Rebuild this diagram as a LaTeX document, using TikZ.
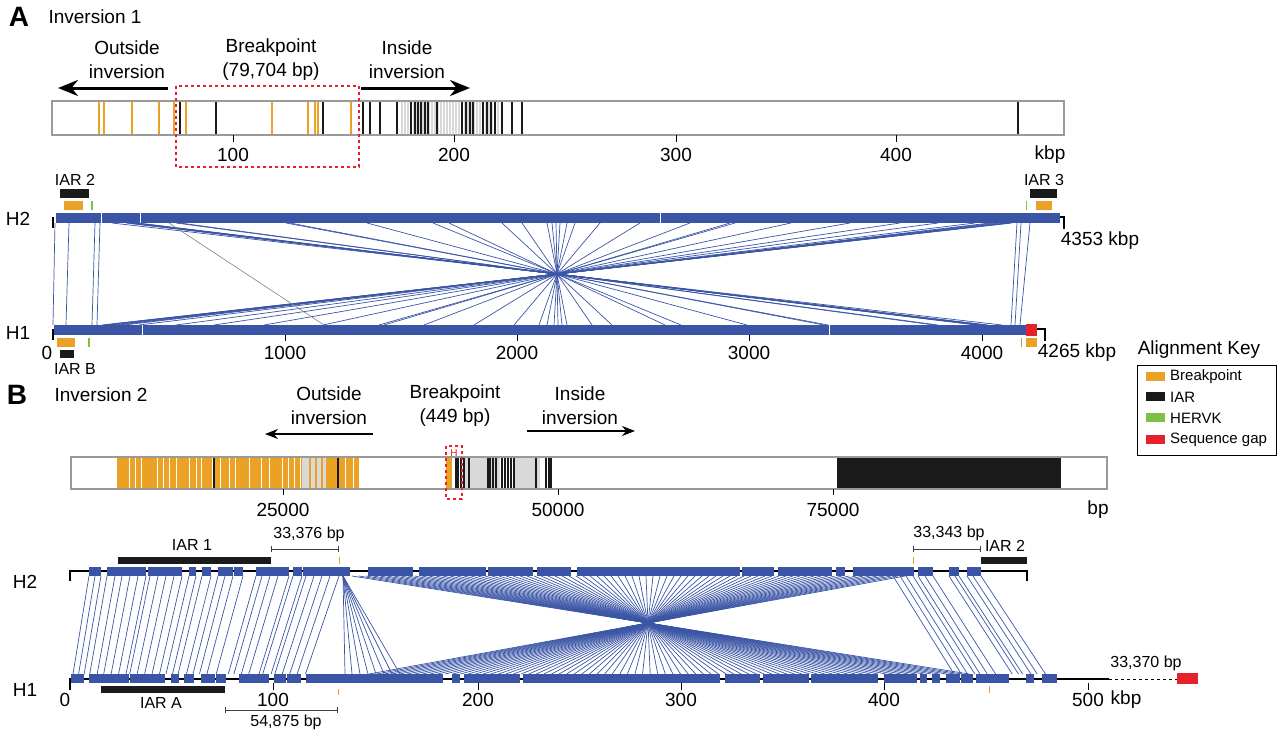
\documentclass[tikz,border=0pt]{standalone}
\usepackage{fontspec}
\setmainfont{Liberation Sans}
\usetikzlibrary{arrows.meta}
\definecolor{alnblue}{HTML}{3A55A5}
\definecolor{bporange}{HTML}{EBA026}
\definecolor{iarblack}{HTML}{1A1A1A}
\definecolor{hervgreen}{HTML}{7DC142}
\definecolor{gapred}{HTML}{E52129}
\definecolor{barframe}{HTML}{9A9A9A}
\newcommand{\fsz}[2]{\fontsize{#1}{#2}\selectfont}

\begin{document}
\begin{tikzpicture}[
    x=1pt, y=-1pt,
    lbl/.style={inner sep=0pt, font=\fsz{19}{24}, align=center},
    note/.style={inner sep=0pt, font=\fsz{16}{18}},
    keytext/.style={inner sep=0pt, font=\fsz{15}{17}, anchor=west},
    panel/.style={inner sep=0pt, font=\fsz{28}{30}\bfseries},
    strip/.style={draw=barframe, line width=1.2pt},
    aln/.style={draw=alnblue, line width=0.7pt},
    track/.style={fill=alnblue},
    band/.style={line width=1.3pt},
    bigarrow/.style={-{Stealth[length=20pt, width=16pt]}, line width=3pt},
    thinarrow/.style={-{Stealth[length=13pt, width=10pt]}, line width=1.5pt},
    bpbox/.style={draw=gapred, dashed, line width=1.3pt},
    tickmark/.style={line width=1pt},
    scalebar/.style={{Bar[width=6pt]}-{Bar[width=6pt]}, line width=0.9pt, black!75},
    endmark/.style={line width=1.8pt}
]
\useasboundingbox (0,0) rectangle (1280,731);

% Panel A: headings
\node[panel] (panelA) at (19,17) {A};
\node[lbl] (invA) at (95,17) {Inversion 1};
\node[lbl] (outsideA) at (127,60) {Outside\\inversion};
\node[lbl] (bpA) at (271,60) {Breakpoint\\(79,704 bp)};
\node[lbl] (insideA) at (407,60) {Inside\\inversion};
\coordinate (outAstart) at (168,88);
\coordinate (outA) at (58,88);
\coordinate (inAstart) at (361,88);
\coordinate (inA) at (470,88);
\draw[bigarrow] (outAstart) -- (outA);
\draw[bigarrow] (inAstart) -- (inA);

% Panel A: breakpoint strip
\fill[white] (52,101) rectangle (1064,135);
\foreach \x in {402,405,...,498}
  \draw[gray!30, band] (\x,102) -- (\x,134);
\foreach \x in {99,104,132,159,174,186,272,308,315,318,351}
  \draw[bporange, band] (\x,102) -- (\x,134);
\foreach \x in {180,216,323,363,370,380,397,411,415,418,421,425,428,437,462,466,470,473,483,487,491,495,502,512,522,1018}
  \draw[iarblack, band] (\x,102) -- (\x,134);
\draw[strip] (52,101) rectangle (1064,135);
\draw[bpbox] (176,86) rectangle (359,167);
\foreach \x/\t in {233/100,454/200,676/300,896/400} {
  \draw[tickmark] (\x,135) -- (\x,142);
  \node[lbl] (topA\t) at (\x,155) {\t};
}
\node[lbl] (kbpA) at (1050,155) {kbp};

% Panel A: haplotype tracks
\node[lbl] (hA2) at (18,219) {H2};
\node[lbl] (hA1) at (18,333) {H1};
\fill[track] (56,213) rectangle (1060,223);
\fill[track] (54,325) rectangle (1026,335);
\foreach \x in {101,140,660} \draw[white, line width=0.6pt] (\x,213) -- (\x,223);
\foreach \x in {142,829} \draw[white, line width=0.6pt] (\x,325) -- (\x,335);
\fill[gapred] (1026,324) rectangle (1037,336);
\draw[endmark] (53,217) -- (53,228);
\draw[endmark] (53,329) -- (53,340);
\draw[endmark] (1060,217) -- (1064,217) -- (1064,229);
\draw[endmark] (1037,329) -- (1045,329) -- (1045,341);

% Panel A: alignments
\foreach \u in {112,126,128,130,132,134,136,138,176,180,286,290,367,433,449,502,522,547,552,556,560,567,575,600,640,690,730,735,791,850,900,938,975,990,995,1000,1005,1008,1010,1012}
  \draw[aln] (\u,223) -- ({1114-\u},325);
\foreach \u/\v in {55/53,69/66,95/92,100/97,1017/1011,1021/1015,1030/1020}
  \draw[aln] (\u,223) -- (\v,325);
\draw[gray, line width=0.6pt] (169,223) -- (324,325);

% Panel A: annotations
\node[note] (iar2A) at (75,180) {IAR 2};
\fill[iarblack] (60,189) rectangle (89,198);
\fill[bporange] (64,201) rectangle (83,210);
\draw[hervgreen, band] (92,201) -- (92,210);
\node[note] (iar3A) at (1044,180) {IAR 3};
\fill[iarblack] (1030,189) rectangle (1057,198);
\fill[bporange] (1036,201) rectangle (1052,210);
\draw[hervgreen, band] (1026.5,201) -- (1026.5,210);
\fill[bporange] (57,338) rectangle (75,347);
\fill[iarblack] (60,350) rectangle (74,358);
\draw[hervgreen, band] (89,338) -- (89,347);
\node[note] (iarBA) at (75,369) {IAR B};
\fill[bporange] (1026,338) rectangle (1037,347);
\draw[hervgreen, band] (1021.6,338) -- (1021.6,347);
\node[lbl] (len2A) at (1100,241) {4353 kbp};
\node[lbl] (len1A) at (1077,353) {4265 kbp};
\node[lbl] (zeroA) at (47,353) {0};
\foreach \x/\t in {285/1000,517/2000,749/3000,982/4000} {
  \draw[tickmark] (\x,335) -- (\x,341);
  \node[lbl] (botA\t) at (\x,353) {\t};
}

% Legend
\node[lbl] (keytitle) at (1199,350) {Alignment Key};
\draw[line width=1pt] (1137,365) rectangle (1276,455);
\foreach \c/\t/\y in {bporange/Breakpoint/377,iarblack/IAR/397,hervgreen/HERVK/418,gapred/Sequence gap/440} {
  \fill[\c] (1146,\y-5) rectangle (1165,\y+4);
  \node[keytext] (key\y) at (1170,\y) {\t};
}

% Panel B: headings
\node[panel] (panelB) at (17,395) {B};
\node[lbl] (invB) at (101,395) {Inversion 2};
\node[lbl] (outsideB) at (329,406) {Outside\\inversion};
\node[lbl] (bpB) at (455,406) {Breakpoint\\(449 bp)};
\node[lbl] (insideB) at (580,406) {Inside\\inversion};
\coordinate (outBstart) at (373,434);
\coordinate (outB) at (265,434);
\coordinate (inBstart) at (527,431);
\coordinate (inB) at (635,431);
\draw[thinarrow] (outBstart) -- (outB);
\draw[thinarrow] (inBstart) -- (inB);

% Panel B: breakpoint strip
\fill[white] (71,457) rectangle (1107,489);
\fill[bporange] (117,458) rectangle (359,488);
\fill[gray!30] (302,458) rectangle (326,488);
\foreach \x in {310,316,322} \draw[bporange, band] (\x,458) -- (\x,488);
\foreach \x in {129,135,141,157,163,169,176,189,196,201,212,220,229,235,249,261,269,282,288,294,300,345,353}
  \draw[white, line width=0.8pt] (\x,458) -- (\x,488);
\foreach \x in {214,338} \draw[iarblack, band] (\x,458) -- (\x,488);
\fill[bporange] (446,458) rectangle (452,488);
\fill[gray!30] (465,458) rectangle (500,488);
\fill[gray!30] (514,458) rectangle (540,488);
\foreach \x in {456,458,461,464,469,488,490,493,496,502,505,508,511,514,536,546,549,551}
  \draw[iarblack, line width=1.1pt] (\x,458) -- (\x,488);
\fill[iarblack] (837,458) rectangle (1061,488);
\draw[strip] (71,457) rectangle (1107,489);
\draw[bpbox] (446,446) rectangle (462,499);
\node[text=gapred, inner sep=0pt, font=\fsz{10}{11}] (hmark) at (454,453) {H};
\foreach \x/\t in {283/25000,558/50000,833/75000} {
  \draw[tickmark] (\x,489) -- (\x,495);
  \node[lbl] (topB\t) at (\x,510) {\t};
}
\node[lbl] (bpunit) at (1098,510) {bp};

% Panel B: haplotype tracks
\node[lbl] (hB2) at (25,582) {H2};
\node[lbl] (hB1) at (25,690) {H1};
\draw[endmark] (70,581) -- (70,571) -- (1027,571) -- (1027,581);
\draw[endmark] (70,690) -- (70,679) -- (1109,679);
\draw[line width=1pt, dashed] (1109,679) -- (1177,679);
\fill[gapred] (1177,673) rectangle (1198,684);
\foreach \a/\b in {89/101,107/146,148/182,189/196,202/211,218/233,234/243,256/289,293/302,303/350,368/413,419/486,488/533,537/571,577/740,742/774,778/832,836/845,853/914,918/933,949/959,967/981}
  \fill[track] (\a,567) rectangle (\b,576);
\foreach \a/\b in {71/84,89/129,130/165,171/179,184/194,201/215,216/226,239/269,274/286,287/301,306/443,452/460,464/520,523/720,725/760,763/809,811/878,884/917,920/927,932/940,946/960,961/973,976/1009,1026/1034,1042/1057}
  \fill[track] (\a,674) rectangle (\b,683);

% Panel B: alignments
\foreach \u in {89,95,101,107,115,122,130,138,146,150,158,166,174,182,189,196,202,211,218,225,233,243,256,262,270,278,289,293,302,306,314,322,330,339}
  \draw[aln] (\u,576) -- ({\u-16-0.07*(\u-89)},674);
\foreach \v in {345,352,360,368,376,384,392,400}
  \draw[aln] (343,576) -- (\v,674);
\foreach \u in {352,359,...,910}
  \draw[aln] (\u,576) -- ({\u+2.085*(648-\u)},674);
\foreach \u in {893,900,906,913,918,925,933,949,955,959,967,973,981}
  \draw[aln] (\u,576) -- ({\u+61+0.04*(\u-893)},674);

% Panel B: annotations
\node[note] (iar1B) at (192,545) {IAR 1};
\fill[iarblack] (118,557) rectangle (271,564);
\draw[scalebar] (271,549) -- (339,549);
\node[note] (gapB1) at (309,534) {33,376 bp};
\draw[bporange, line width=0.8pt] (339,557) -- (339,564);
\node[note] (gapB2) at (949,533) {33,343 bp};
\draw[scalebar] (913,549) -- (981,549);
\draw[bporange, line width=0.8pt] (913,557) -- (913,564);
\fill[iarblack] (981,557) rectangle (1027,564);
\node[note] (iar2B) at (1005,546) {IAR 2};
\fill[iarblack] (101,686) rectangle (225,693);
\node[note] (iarAB) at (161,703) {IAR A};
\draw[scalebar] (225,710) -- (338,710);
\node[note] (gapB3) at (286,722) {54,875 bp};
\draw[bporange, line width=0.8pt] (338,689) -- (338,695);
\draw[bporange, line width=0.8pt] (989,686) -- (989,693);
\node[note] (gapB4) at (1146,663) {33,370 bp};
\node[lbl] (zeroB) at (65,700) {0};
\foreach \x/\t in {273/100,478/200,681/300,884/400,1088/500} {
  \draw[tickmark] (\x,683) -- (\x,690);
  \node[lbl] (botB\t) at (\x,700) {\t};
}
\node[lbl] (kbpB) at (1126,700) {kbp};
\end{tikzpicture}
\end{document}
